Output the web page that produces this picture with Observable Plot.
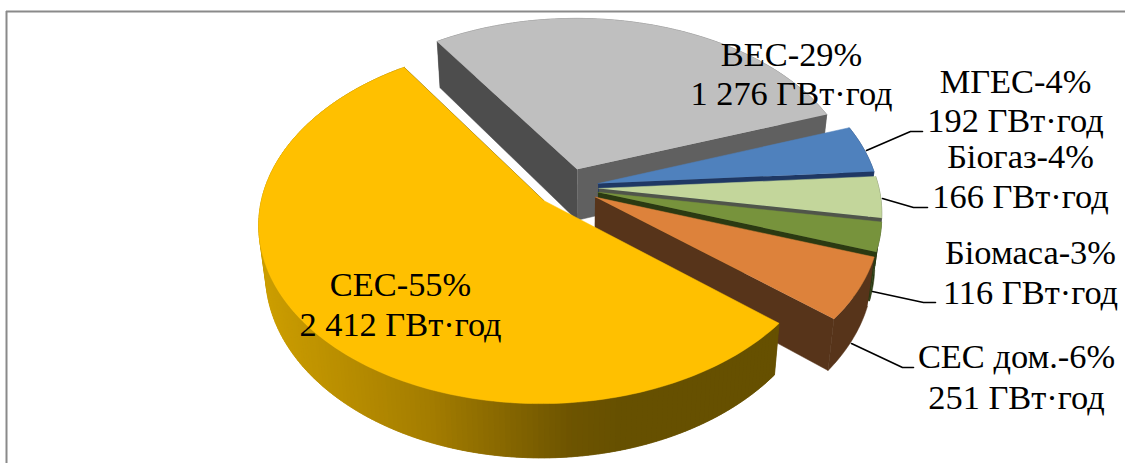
<!DOCTYPE html>
<html><head><meta charset="utf-8">
<style>html,body{margin:0;padding:0;background:#fff}svg{display:block}</style>
<script src="https://cdn.jsdelivr.net/npm/d3@7"></script>
<script src="https://cdn.jsdelivr.net/npm/@observablehq/plot@0.6"></script>
</head><body><div id="c"></div>
<script>
// Slices clockwise, starting at the yellow one
const names = ["СЕС","ВЕС","МГЕС","Біогаз","Біомаса","СЕС дом."];
const gwh = [2412,1276,192,166,116,251];
const shares = [55,29,4,4,3,6];
const gwhText = ["2 412","1 276","192","166","116","251"];
const topColors = ["#FFC000","#BFBFBF","#4F81BD","#C3D69B","#77933C","#DD823B"];
const wallColors = ["#665000","#606060","#1F3864","#50554A","#2B3A12","#57341A"];
const startWallColors = [null,"#4D4D4D",null,null,null,null];
const gradStops = [[265,"#CB9D00"],[430,"#A37C00"],[570,"#6D5400"],[620,"#665000"]];

// Label text centres and baselines [x, baseline1, baseline2]
const labelPos = [[400,295,335],[791,65,104],[1015,92,131],[1020,167,207],[1030,263,303],[1016,367,408]];
const leaders = [
  [[866,150],[910,131],[922,131]],
  [[882,198],[913,207],[927,207]],
  [[872,291],[923,302],[935,302]],
  [[851,343],[902,367],[913,367]]
];

// Projection of the pie plane
const O=[567,187], A=280, B=174, P=0.125, D=47, EXP=0.112, LOWX=0.978, GREY_DEPTH=1.1;
const rad=d=>d*Math.PI/180;
let depth=1;
const proj=(X,Y,low)=>{const w=1-P*Y;return [O[0]+A*X/w*(low?LOWX:1),O[1]+B*Y/w+(low?depth*D/w:0)];};

const total=d3.sum(gwh);
const startDeg=39.5; // where yellow begins (clockwise, 0 = right)
let acc=startDeg;
const polys=[]; let pid=0;
const add=(pts,fill)=>{const id=pid++;pts.forEach(p=>polys.push({id,fill,x:p[0],y:p[1]}));};
const gradAt=x=>{
  if(x<=gradStops[0][0])return gradStops[0][1];
  for(let i=1;i<gradStops.length;i++){
    if(x<=gradStops[i][0]){
      const [a,ca]=gradStops[i-1],[b,cb]=gradStops[i];
      return d3.interpolateRgb(ca,cb)((x-a)/(b-a));
    }
  }
  return gradStops[gradStops.length-1][1];
};
const slices=gwh.map((v,i)=>{const s=acc,e=acc+v/total*360;acc=e;return {i,s,e};});
// painter's order: grey first, then down the right side, yellow last
[1,2,3,4,5,0].forEach(i=>{
  depth=i===1?GREY_DEPTH:1;
  const {s,e}=slices[i], m=rad((s+e)/2);
  const ox=EXP*Math.cos(m), oy=EXP*Math.sin(m);
  const rim=[];
  const n=Math.ceil((e-s));
  for(let k=0;k<=n;k++){const t=rad(s+(e-s)*k/n);rim.push([ox+Math.cos(t),oy+Math.sin(t)]);}
  const ap=[ox,oy];
  const q=(a,b,f)=>add([proj(...a,false),proj(...b,false),proj(...b,true),proj(...a,true)],f);
  // outer wall first: each step overlaps the next point so no seam shows
  if(i===0){
    for(let k=n;k>0;k--){
      const mid=proj(...rim[k],false)[0]/2+proj(...rim[k-1],false)[0]/2;
      q(rim[k],rim[Math.max(k-2,0)],gradAt(mid));
    }
  } else {
    add([...rim.map(r=>proj(...r,false)),...rim.slice().reverse().map(r=>proj(...r,true))],wallColors[i]);
  }
  if(startWallColors[i])q(ap,rim[0],startWallColors[i]);
  q(ap,rim[rim.length-1],wallColors[i]);
  add([proj(...ap,false),...rim.map(r=>proj(...r,false))],topColors[i]);
});

const textRows=names.flatMap((nm,i)=>[
  {t:`${nm}-${shares[i]}%`,x:labelPos[i][0],y:labelPos[i][1]},
  {t:`${gwhText[i]} ГВт·год`,x:labelPos[i][0],y:labelPos[i][2]}
]);
const FS=34.4;
const leaderRows=leaders.flatMap((l,id)=>l.map(p=>({id,x:p[0],y:p[1]})));

const chart=Plot.plot({
  width:1125,height:463,margin:0,
  x:{domain:[0,1125],range:[0,1125],axis:null},
  y:{domain:[0,463],range:[0,463],axis:null},
  color:{type:"identity"},
  marks:[
    Plot.ruleX([6],{y1:11,y2:463,stroke:"#8a8a8a",strokeWidth:2}),
    Plot.ruleY([11],{x1:6,x2:1125,stroke:"#8a8a8a",strokeWidth:2}),
    Plot.line(polys,{x:"x",y:"y",z:"id",fill:"fill",stroke:"fill",strokeWidth:0.5,curve:"linear"}),
    Plot.line(leaderRows,{x:"x",y:"y",z:"id",stroke:"#000",strokeWidth:1.6,curve:"linear"}),
    Plot.text(textRows,{x:"x",y:"y",text:"t",textAnchor:"middle",lineAnchor:"middle",dy:-0.32*FS,
      fontFamily:"Liberation Serif",fontSize:FS,fill:"#000"})
  ]
});
document.getElementById("c").appendChild(chart);
</script></body></html>
